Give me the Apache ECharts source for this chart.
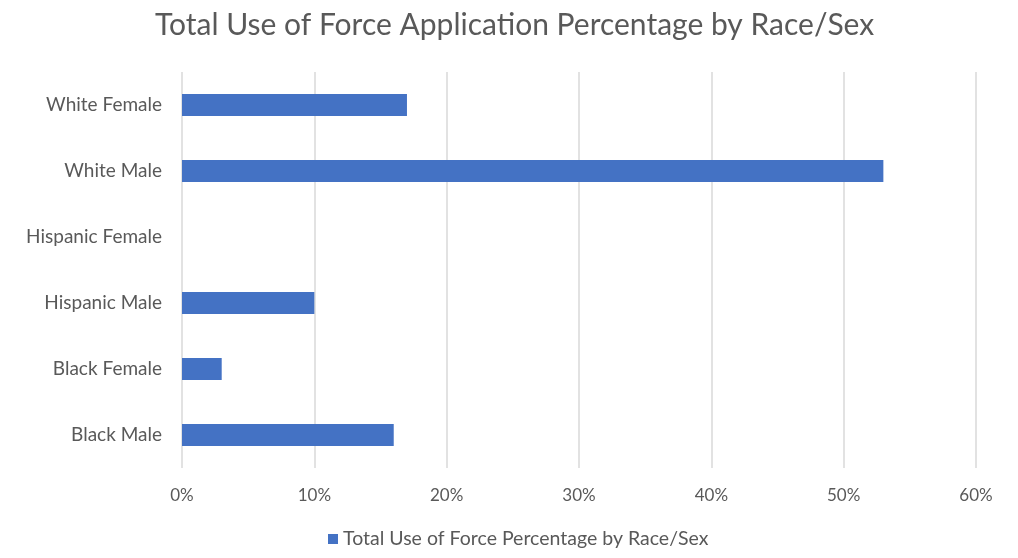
<!DOCTYPE html>
<html>
<head>
<meta charset="utf-8">
<script src="https://cdn.jsdelivr.net/npm/echarts@6/dist/echarts.min.js"></script>
<style>
  html, body { margin: 0; padding: 0; background: #fff; }
  #chart { width: 1018px; height: 558px; }
</style>
</head>
<body>
<div id="chart"></div>
<script>
// Race/sex groups, listed bottom to top as the y axis draws them
var categories = ['Black Male', 'Black Female', 'Hispanic Male', 'Hispanic Female', 'White Male', 'White Female'];
// Share of all use-of-force applications, percent
var percentages = [16, 3, 10, 0, 53, 17];
var seriesName = 'Total Use of Force Percentage by Race/Sex';
var titleText = 'Total Use of Force Application Percentage by Race/Sex';

var textColor = '#595959';
var fontFamily = 'Lato, "Open Sans", sans-serif';

var chart = echarts.init(document.getElementById('chart'), null, { renderer: 'canvas' });
chart.setOption({
  animation: false,
  backgroundColor: '#ffffff',
  textStyle: { fontFamily: fontFamily, color: textColor },
  title: {
    text: titleText,
    left: 150,
    top: 5,
    textStyle: { fontFamily: fontFamily, fontSize: 30, fontWeight: 'normal', color: textColor }
  },
  legend: {
    data: [seriesName],
    bottom: 4,
    left: 323,
    icon: 'rect',
    itemWidth: 10,
    itemHeight: 10,
    itemGap: 6,
    textStyle: { fontFamily: fontFamily, fontSize: 19.5, color: textColor }
  },
  grid: { left: 182, right: 42, top: 72, bottom: 90, containLabel: false },
  xAxis: {
    type: 'value',
    min: 0,
    max: 60,
    interval: 10,
    axisLine: { show: false },
    axisTick: { show: false },
    axisLabel: {
      formatter: '{value}%',
      fontFamily: fontFamily,
      fontSize: 17,
      color: textColor,
      margin: 19
    },
    splitLine: { show: true, lineStyle: { color: '#d9d9d9', width: 1.5 } }
  },
  yAxis: {
    type: 'category',
    data: categories,
    axisLine: { show: false },
    axisTick: { show: false },
    axisLabel: { fontFamily: fontFamily, fontSize: 19, color: textColor, margin: 20 }
  },
  series: [{
    name: seriesName,
    type: 'bar',
    data: percentages,
    barWidth: 22,
    itemStyle: { color: '#4472c4' }
  }]
});
</script>
</body>
</html>
